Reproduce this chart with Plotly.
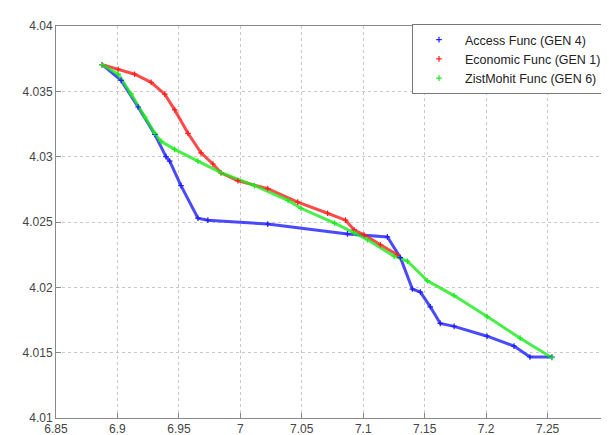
import plotly.graph_objects as go

# ---- data ----
access_x = [6.8876, 6.9030, 6.9168, 6.9304, 6.9395, 6.9425, 6.9517, 6.9655, 6.9736,
            7.0223, 7.0872, 7.1197, 7.1302, 7.1400, 7.1465, 7.1546, 7.1627, 7.1740,
            7.2008, 7.2227, 7.2357, 7.2536]
access_y = [4.03704, 4.03584, 4.03380, 4.03170, 4.03000, 4.02966, 4.02778, 4.02529, 4.02514,
            4.02484, 4.02409, 4.02386, 4.02228, 4.01987, 4.01964, 4.01851, 4.01724, 4.01701,
            4.01626, 4.01550, 4.01467, 4.01467]

econ_x = [6.8876, 6.9006, 6.9140, 6.9274, 6.9385, 6.9466, 6.9574, 6.9680, 6.9777, 6.9842,
          6.9980, 7.0223, 7.0467, 7.0710, 7.0856, 7.0927, 7.1008, 7.1140, 7.1278]
econ_y = [4.03704, 4.03669, 4.03631, 4.03569, 4.03478, 4.03358, 4.03179, 4.03029, 4.02944, 4.02876,
          4.02816, 4.02756, 4.02652, 4.02567, 4.02514, 4.02439, 4.02401, 4.02326, 4.02250]

zist_x = [6.8876, 6.9006, 6.9111, 6.9222, 6.9304, 6.9355, 6.9466, 6.9655, 6.9842, 7.0115,
          7.0388, 7.0494, 7.0767, 7.0927, 7.1035, 7.1252, 7.1360, 7.1522, 7.1739, 7.2008,
          7.2277, 7.2536]
zist_y = [4.03704, 4.03631, 4.03480, 4.03305, 4.03179, 4.03117, 4.03056, 4.02966, 4.02878, 4.02778,
          4.02665, 4.02605, 4.02492, 4.02417, 4.02364, 4.02238, 4.02200, 4.02050, 4.01937, 4.01776,
          4.01611, 4.01461]

x_ticks = [6.85, 6.9, 6.95, 7.0, 7.05, 7.1, 7.15, 7.2, 7.25, 7.3]
x_tick_labels = ["6.85", "6.9", "6.95", "7", "7.05", "7.1", "7.15", "7.2", "7.25", "7.3"]
y_ticks = [4.01, 4.015, 4.02, 4.025, 4.03, 4.035, 4.04]
y_tick_labels = ["4.01", "4.015", "4.02", "4.025", "4.03", "4.035", "4.04"]

series = [
    ("Access Func (GEN 4)", access_x, access_y, "rgb(30,30,255)"),
    ("Economic Func (GEN 1)", econ_x, econ_y, "rgb(255,30,30)"),
    ("ZistMohit Func (GEN 6)", zist_x, zist_y, "rgb(30,235,30)"),
]

fig = go.Figure()
for name, xs, ys, col in series:
    fig.add_trace(go.Scatter(x=xs, y=ys, mode="lines", showlegend=False,
                             line=dict(color=col, width=3), opacity=0.8,
                             hoverinfo="skip"))
for name, xs, ys, col in series:
    fig.add_trace(go.Scatter(x=xs, y=ys, mode="markers", name=name,
                             marker=dict(symbol="cross-thin", size=4, color=col,
                                         line=dict(color=col, width=1.2))))

axis_common = dict(showline=True, linecolor="#888888", linewidth=1, mirror=True,
                   ticks="inside", ticklen=5, tickcolor="#888888",
                   showgrid=True, gridcolor="#c8c8c8", griddash="dot", gridwidth=1,
                   zeroline=False, tickfont=dict(family="Liberation Sans, Arial", size=12,
                                                 color="#444444"))

fig.update_xaxes(range=[6.85, 7.3], tickvals=x_ticks, ticktext=x_tick_labels, **axis_common)
fig.update_yaxes(range=[4.01, 4.04], tickvals=y_ticks, ticktext=y_tick_labels, **axis_common)

fig.update_layout(
    width=609, height=435,
    margin=dict(l=48, r=7, t=18, b=19),
    paper_bgcolor="white", plot_bgcolor="white",
    font=dict(family="Liberation Sans, Arial", size=12, color="#222222"),
    legend=dict(x=0.9964, xanchor="right", y=1.005, yanchor="top",
                bgcolor="white", bordercolor="#777777", borderwidth=1,
                font=dict(size=12.5), tracegroupgap=0, itemwidth=42),
    showlegend=True,
)

fig.write_html("out.html")
